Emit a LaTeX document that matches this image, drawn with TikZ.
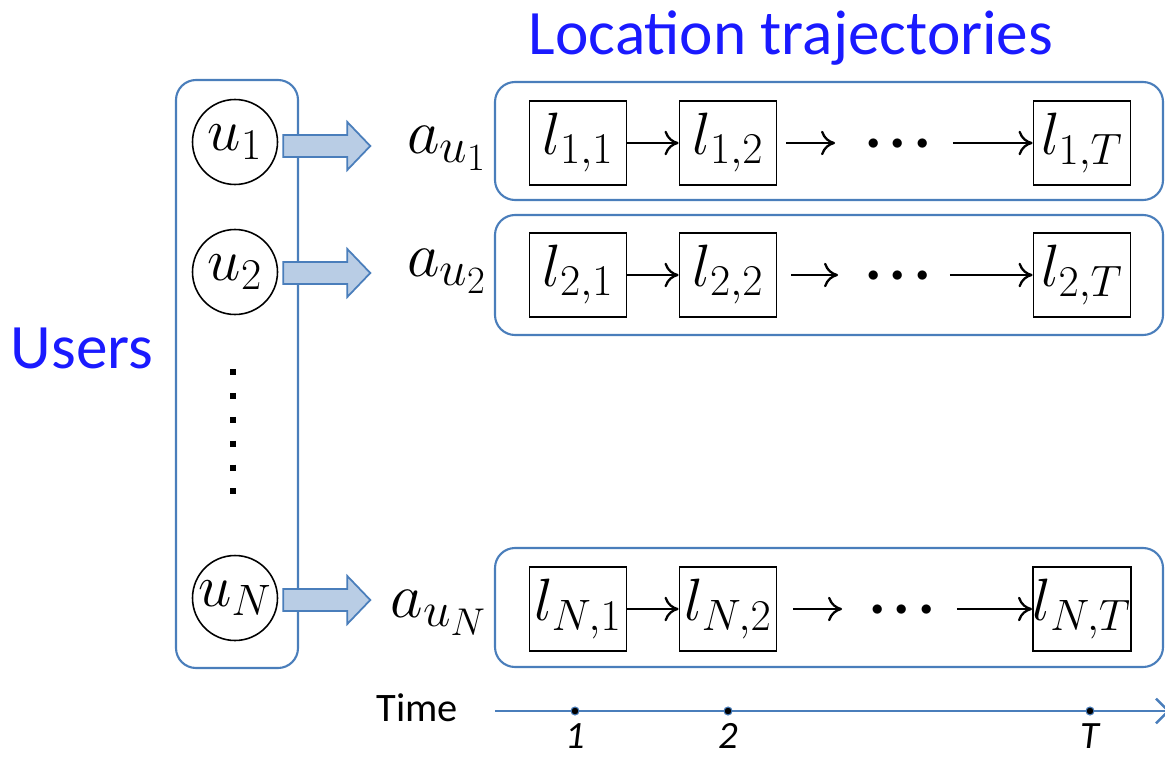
\RequirePackage{fix-cm}
\documentclass[tikz,border=0pt]{standalone}
\usepackage{fontspec}
\setsansfont{Carlito}
\usetikzlibrary{arrows.meta}
\DeclareMathSizes{34}{34}{25}{19}
\DeclareMathSizes{36}{36}{28}{22}
\definecolor{frameblue}{HTML}{4A7EBB}
\definecolor{arrowfill}{HTML}{B9CDE5}
\definecolor{titleblue}{HTML}{1A1AFF}
\tikzset{
  grp/.style={draw=frameblue,line width=1.2pt,rounded corners=0.4cm},
  user/.style={circle,draw,line width=0.9pt,minimum size=1.7cm,inner sep=0pt,font=\fontsize{34}{40}\selectfont},
  loc/.style={draw,line width=1.1pt,minimum width=1.94cm,minimum height=1.68cm,inner sep=0pt,font=\fontsize{34}{40}\selectfont},
  lbl/.style={anchor=base,text=titleblue,font=\sffamily\fontsize{36}{42}\selectfont},
  alab/.style={anchor=base east,inner sep=0pt,font=\fontsize{36}{42}\selectfont},
  dotsnode/.style={anchor=base,inner sep=0pt,font=\fontsize{50}{56}\selectfont},
  larr/.style={line width=1.3pt,-{Computer Modern Rightarrow[length=8pt,width=14pt]}},
  bigarr/.style={draw=frameblue,fill=arrowfill,line width=1pt},
  tick/.style={circle,fill=black,draw=frameblue,line width=0.6pt,minimum size=0.16cm,inner sep=0pt},
  tlab/.style={anchor=base,inner sep=0pt,font=\sffamily\itshape\fontsize{22}{26}\selectfont},
}
\begin{document}
\begin{tikzpicture}[x=0.02cm,y=-0.02cm]
  \useasboundingbox (0,0) rectangle (1165,757);
  \node[lbl] (title) at (791,55) {Location trajectories};
  \node[lbl] (users) at (82,368) {Users};

  \draw[grp] (176,80) rectangle (298,668);
  \node[user] (u1) at (235,142) {$u_1$};
  \node[user] (u2) at (235,272) {$u_2$};
  \node[user] (uN) at (235,598) {$u_N$};
  \draw[line width=0.12cm,dash pattern=on 3.4pt off 10.2pt] (233,369) -- (233,494);

  \draw[bigarr] (u1.east) ++(5,-7) -- ++(64,0) -- ++(0,-13) -- ++(23,24) -- ++(-23,24) -- ++(0,-13) -- ++(-64,0) -- cycle;
  \draw[bigarr] (u2.east) ++(5,-10) -- ++(64,0) -- ++(0,-13) -- ++(23,24) -- ++(-23,24) -- ++(0,-13) -- ++(-64,0) -- cycle;
  \draw[bigarr] (uN.east) ++(5,-9) -- ++(64,0) -- ++(0,-13) -- ++(23,24) -- ++(-23,24) -- ++(0,-13) -- ++(-64,0) -- cycle;

  \node[alab] (a1) at (487,153) {$a_{u_1}$};
  \node[alab] (a2) at (487,276) {$a_{u_2}$};
  \node[alab] (aN) at (487,617) {$a_{u_N}$};

  \draw[grp] (495,82) rectangle (1163,200);
  \node[loc] (l11) at (578,143) {$l_{1,1}$};
  \node[loc] (l12) at (728,143) {$l_{1,2}$};
  \node[loc] (l1T) at (1082,143) {$l_{1,T}$};
  \node[dotsnode] (d1) at (898,165) {${\cdot}{\cdot}{\cdot}$};
  \draw[larr] (l11) -- (l12);
  \draw[larr,shorten <=0.18cm,shorten >=0.52cm] (l12.east) -- (l12.east -| d1.west);
  \draw[larr,shorten <=0.36cm] (l1T.west -| d1.east) -- (l1T.west);

  \draw[grp] (495,215) rectangle (1163,335);
  \node[loc] (l21) at (578,275) {$l_{2,1}$};
  \node[loc] (l22) at (728,275) {$l_{2,2}$};
  \node[loc] (l2T) at (1082,275) {$l_{2,T}$};
  \node[dotsnode] (d2) at (898,297) {${\cdot}{\cdot}{\cdot}$};
  \draw[larr] (l21) -- (l22);
  \draw[larr,shorten <=0.28cm,shorten >=0.46cm] (l22.east) -- (l22.east -| d2.west);
  \draw[larr,shorten <=0.3cm] (l2T.west -| d2.east) -- (l2T.west);

  \draw[grp] (495,548) rectangle (1163,667);
  \node[loc] (lN1) at (578,609) {$l_{N,1}$};
  \node[loc] (lN2) at (728,609) {$l_{N,2}$};
  \node[loc] (lNT) at (1082,609) {$l_{N,T}$};
  \node[dotsnode] (dN) at (902,631) {${\cdot}{\cdot}{\cdot}$};
  \draw[larr] (lN1) -- (lN2);
  \draw[larr,shorten <=0.32cm,shorten >=0.46cm] (lN2.east) -- (lN2.east -| dN.west);
  \draw[larr,shorten <=0.36cm] (lNT.west -| dN.east) -- (lNT.west);

  \node[anchor=base,font=\sffamily\fontsize{23}{28}\selectfont] (time) at (417,721) {Time};
  \coordinate (t0) at (495,711);
  \coordinate (t1) at (1170,711);
  \draw[frameblue,line width=1.4pt,-{Straight Barb[length=7pt,width=14pt]}] (t0) -- (t1);
  \node[tick] (k1) at (575,711) {};
  \node[tick] (k2) at (728,711) {};
  \node[tick] (kT) at (1090,711) {};
  \node[tlab] (n1) at (575,748) {1};
  \node[tlab] (n2) at (728,748) {2};
  \node[tlab] (nT) at (1090,748) {T};
\end{tikzpicture}
\end{document}
